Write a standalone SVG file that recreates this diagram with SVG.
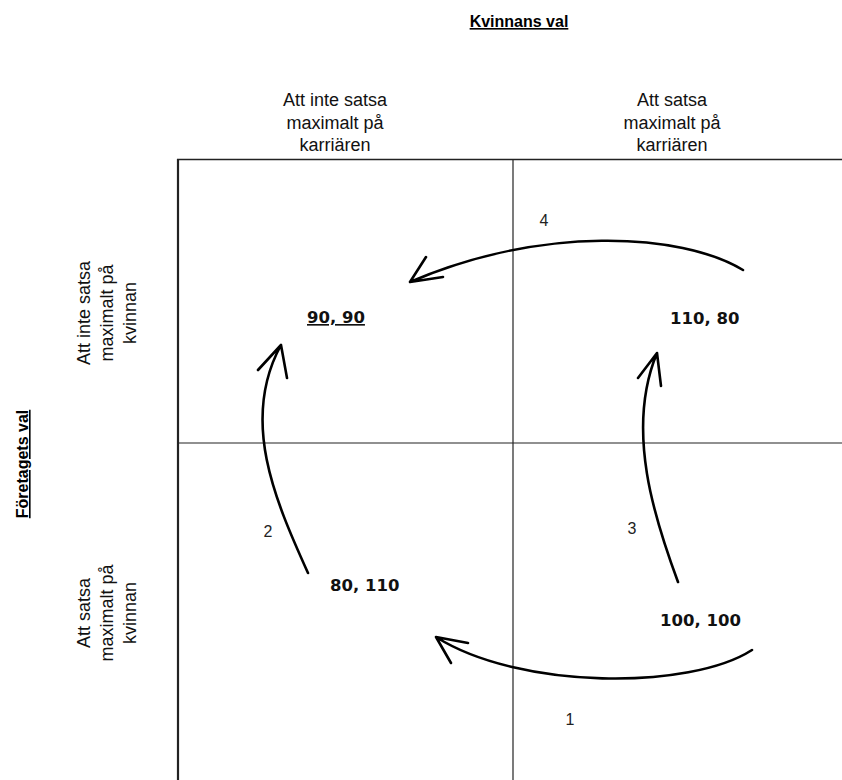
<svg xmlns="http://www.w3.org/2000/svg" width="842" height="780" viewBox="0 0 842 780">
<style>
.lbl{font-family:"Liberation Sans",Arial,sans-serif;font-size:18px;fill:#111;text-anchor:middle}
.hdr{font-family:"Liberation Sans",Arial,sans-serif;font-size:16px;font-weight:bold;fill:#000;text-anchor:middle;text-decoration:underline}
.val{font-family:"DejaVu Sans",Verdana,sans-serif;font-size:16.5px;font-weight:bold;fill:#111}
.num{font-family:"Liberation Sans",Arial,sans-serif;font-size:16px;fill:#222;text-anchor:middle}
.arr{fill:none;stroke:#000;stroke-width:2.6;stroke-linecap:round;stroke-linejoin:round}
.grid{stroke:#222;fill:none}
</style>
<rect width="842" height="780" fill="#fff"/>
<g id="grid">
<line class="grid" x1="178" y1="159" x2="178" y2="780" stroke-width="2.2" stroke="#444"/>
<line class="grid" x1="513" y1="159" x2="513" y2="780" stroke-width="1.2"/>
<line class="grid" x1="177" y1="159.5" x2="842" y2="159.5" stroke-width="1.6"/>
<line class="grid" x1="178" y1="443" x2="842" y2="443" stroke-width="1.2"/>
</g>
<g id="header-kvinnan"><text class="hdr" x="519" y="27">Kvinnans val</text></g>
<g id="header-foretaget"><text class="hdr" transform="translate(28,464) rotate(-90)">Företagets val</text></g>
<g id="col1"><text class="lbl" x="335" y="106"><tspan x="335">Att inte satsa</tspan><tspan x="335" dy="22.5">maximalt på</tspan><tspan x="335" dy="22.5">karriären</tspan></text></g>
<g id="col2"><text class="lbl" x="672" y="106"><tspan x="672">Att satsa</tspan><tspan x="672" dy="22.5">maximalt på</tspan><tspan x="672" dy="22.5">karriären</tspan></text></g>
<g id="row1"><text class="lbl" transform="translate(90,313) rotate(-90)"><tspan x="0">Att inte satsa</tspan><tspan x="0" dy="23">maximalt på</tspan><tspan x="0" dy="23">kvinnan</tspan></text></g>
<g id="row2"><text class="lbl" transform="translate(90,613) rotate(-90)"><tspan x="0">Att satsa</tspan><tspan x="0" dy="23">maximalt på</tspan><tspan x="0" dy="23">kvinnan</tspan></text></g>
<g id="cell-90-90"><text class="val" x="307" y="323" text-decoration="underline">90, 90</text></g>
<g id="cell-110-80"><text class="val" x="670" y="324">110, 80</text></g>
<g id="cell-80-110"><text class="val" x="330" y="591">80, 110</text></g>
<g id="cell-100-100"><text class="val" x="660" y="626">100, 100</text></g>
<g id="connectors">
<path class="arr" d="M752,650 C690,690 520,690 436,637 M468,643 L436,637 L451,663"/>
<path class="arr" d="M308,573 C275,500 240,420 281,345 M258,370 L281,345 L287,378"/>
<path class="arr" d="M678,582 C655,520 625,430 657,353 M638,378 L657,353 L661,386"/>
<path class="arr" d="M743,270 C680,232 540,226 410,282 M426,257 L410,282 L443,277"/>
<text class="num" x="570" y="725">1</text>
<text class="num" x="268" y="537">2</text>
<text class="num" x="632" y="534">3</text>
<text class="num" x="544" y="226">4</text>
</g>
</svg>
